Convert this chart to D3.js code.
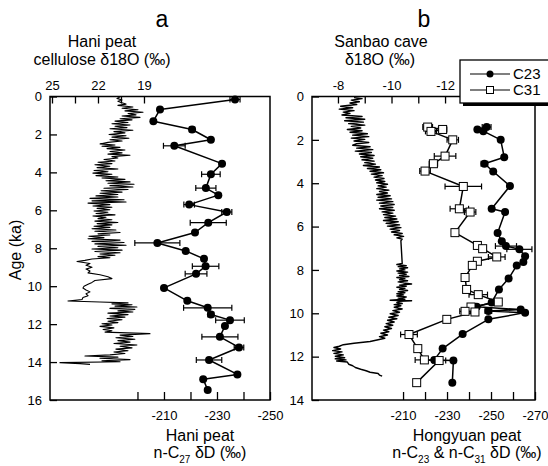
<!DOCTYPE html>
<html>
<head>
<meta charset="utf-8">
<script src="https://d3js.org/d3.v7.min.js"></script>
<style>
body { margin: 0; background: #fff; }
svg text { font-family: "Liberation Sans", Arial, sans-serif; fill: #000; }
</style>
</head>
<body>
<svg id="chart" width="548" height="466"></svg>
<script>
// ---- data: [age (ka), value] ----
const haniCellulose = [
  [0.02,20.56],[0.1,20.76],[0.18,20.43],[0.25,20.7],[0.32,20.5],
  [0.4,20.17],[0.47,20.7],[0.55,19.72],[0.62,20.43],[0.7,19.39],[0.76,20.24],[0.83,19.06],[0.9,20.04],[0.97,19.52],[1.03,20.43],[1.1,19.26],[1.17,20.56],[1.23,19.78],[1.3,20.89],
  [1.37,20.04],[1.44,21.09],[1.5,19.91],[1.57,20.89],[1.64,20.11],[1.7,21.22],[1.78,19.72],[1.85,20.96],[1.92,20.24],[2.0,21.28],[2.07,20.17],[2.14,21.09],[2.2,19.98],[2.28,21.22],[2.35,20.43],
  [2.42,21.35],[2.5,21.87],[2.56,20.89],[2.62,21.74],
  [2.68,20.56],[2.75,21.41],[2.82,20.24],[2.9,21.22],[2.97,20.43],[3.04,21.35],[3.1,19.91],[3.17,21.09],[3.24,20.7],[3.32,21.61],
  [3.4,20.89],[3.47,22.0],[3.54,21.09],[3.6,22.2],[3.68,21.22],[3.75,22.06],[3.82,20.7],[3.9,22.26],[3.97,21.35],[4.04,22.33],[4.1,21.09],[4.17,22.13],
  [4.24,20.7],[4.3,21.74],[4.37,20.24],[4.44,21.48],[4.5,19.91],[4.57,21.35],[4.63,19.65],[4.7,21.22],[4.77,19.72],[4.84,21.61],[4.9,20.04],[4.97,21.8],[5.04,20.43],[5.1,21.87],[5.17,20.7],
  [5.24,22.13],[5.3,20.7],[5.37,22.52],[5.44,20.3],[5.5,22.39],[5.56,20.17],[5.62,22.65],[5.7,21.22],[5.77,22.33],[5.84,21.09],
  [5.9,22.06],[5.97,21.22],[6.04,22.26],[6.1,21.35],[6.17,22.13],[6.24,20.89],[6.3,22.33],[6.37,21.48],[6.44,22.0],[6.5,21.09],[6.57,22.2],[6.64,20.7],[6.7,22.06],[6.77,21.09],[6.84,22.26],[6.9,21.22],[6.97,22.39],[7.04,20.83],[7.1,22.2],[7.17,20.56],[7.24,22.0],[7.3,21.22],[7.37,22.59],[7.44,21.61],
  [7.5,22.65],[7.57,20.56],[7.64,22.39],[7.7,20.3],[7.77,22.2],[7.84,20.17],[7.9,22.0],[7.97,20.7],[8.04,22.39],[8.1,20.43],
  [8.17,22.2],[8.24,20.56],[8.3,21.87],[8.37,20.89],[8.44,22.0],[8.5,21.22],[8.57,22.39],[8.64,22.85],
  [8.7,23.37],[8.8,22.52],[8.9,22.78],[9.0,22.39],[9.1,22.78],[9.2,22.52],[9.3,22.65],[9.4,21.87],[9.5,21.35],[9.6,21.09],[9.7,22.2],[9.8,22.39],[9.9,22.65],[10.0,22.91],[10.1,22.98],[10.2,22.78],[10.3,22.52],[10.4,22.78],[10.5,22.65],[10.6,22.98],[10.7,23.04],[10.78,23.96],[10.83,21.87],[10.88,20.04],
  [10.93,21.09],[10.98,19.78],[11.05,20.89],[11.1,19.46],[11.17,21.22],[11.22,19.59],[11.3,20.7],[11.36,19.72],[11.42,21.35],[11.5,20.04],[11.57,21.22],[11.63,20.24],[11.7,21.41],[11.77,20.43],[11.85,21.35],[11.92,20.7],
  [11.98,21.74],[12.05,21.09],[12.12,21.87],[12.2,20.96],[12.28,21.67],[12.35,21.09],[12.42,21.54],
  [12.5,18.61],[12.58,20.56],[12.65,19.72],[12.72,20.83],[12.8,19.59],[12.87,20.7],[12.95,19.91],[13.02,20.96],[13.1,19.46],[13.17,20.56],[13.25,19.78],[13.32,20.83],[13.4,20.04],[13.47,20.96],[13.55,20.24],[13.62,21.22],[13.68,22.85],[13.74,20.7],[13.8,21.87],[13.87,19.91],[13.93,21.74],[13.98,20.56],[14.03,24.48],[14.08,23.17],[14.12,22.52]
];

// [age, dD, error]
const haniC27 = [
  [0.16,-236.8,1.9],[0.68,-208.5,0],[1.3,-206,0],[1.74,-220.6,1],[2.28,-227.7,0],[2.6,-213.9,4.1],
  [3.54,-231.9,0],[4.1,-227.7,3.5],[4.83,-225.8,3.8],[5.2,-230.5,0],[5.7,-219.5,2],[6.09,-233.7,1.9],
  [6.65,-226.7,6.8],[7.17,-221.7,0],[7.72,-207.5,8.5],[8.14,-218.2,0],[8.56,-225.1,0],[8.95,-225.7,5],
  [9.35,-222.1,4.1],[10.09,-210,0],[10.77,-218.8,0],[11.14,-226.5,9.1],[11.49,-227.7,1.1],[11.79,-234.9,5.4],
  [12.1,-233,0],[12.67,-231.1,6.8],[13.23,-238.3,1.8],[13.89,-227,4.8],[14.65,-237.7,0],[14.9,-224.8,0],[15.47,-226.5,0]
];

const sanbaoCave = [
  [0.05,-8.6],[0.1,-8.9],[0.17,-8.5],[0.24,-8.8],[0.3,-8.45],[0.37,-8.7],
  [0.45,-8.1],[0.52,-8.55],[0.58,-8.05],[0.65,-8.6],[0.72,-8.2],[0.78,-8.45],
  [0.85,-8.15],[0.92,-8.9],[0.98,-8.3],[1.05,-9.0],[1.12,-8.25],[1.18,-8.95],[1.25,-8.4],[1.32,-9.0],[1.38,-8.5],[1.45,-8.85],[1.52,-8.35],[1.58,-8.9],
  [1.65,-8.45],[1.72,-9.1],[1.78,-8.55],[1.85,-9.15],[1.92,-8.5],[1.98,-9.0],[2.05,-8.6],[2.12,-9.15],[2.18,-8.7],
  [2.25,-8.55],[2.32,-9.2],[2.38,-8.7],[2.45,-9.3],[2.52,-8.65],[2.58,-9.25],[2.65,-8.8],[2.72,-9.35],[2.78,-8.85],[2.85,-9.3],[2.92,-8.9],[2.98,-9.35],[3.05,-9.0],
  [3.12,-9.4],[3.18,-8.95],[3.25,-9.55],[3.32,-9.1],[3.38,-9.6],[3.45,-9.2],[3.52,-9.7],[3.58,-9.25],[3.65,-9.65],[3.72,-9.35],[3.78,-9.72],[3.85,-9.4],
  [3.92,-9.75],[3.98,-9.45],[4.05,-9.85],[4.12,-9.5],[4.18,-9.8],[4.25,-9.45],[4.32,-9.9],[4.38,-9.55],[4.45,-9.85],
  [4.52,-9.45],[4.58,-9.95],[4.65,-9.5],[4.72,-10.0],[4.78,-9.45],[4.85,-10.05],[4.92,-9.55],[4.98,-10.1],[5.05,-9.6],[5.12,-10.05],[5.18,-9.55],[5.25,-10.1],[5.32,-9.65],[5.38,-10.05],[5.45,-9.7],[5.52,-10.15],[5.58,-9.75],
  [5.65,-10.2],[5.72,-9.7],[5.78,-10.25],[5.85,-9.8],[5.92,-10.3],[5.98,-9.85],[6.05,-10.35],[6.12,-9.95],[6.18,-10.3],[6.25,-10.0],[6.32,-10.4],
  [6.38,-10.1],[6.45,-10.45],[6.52,-10.2],[6.58,-10.4],[6.65,-10.35],
  [7.7,-10.4],
  [7.75,-10.2],[7.8,-10.55],[7.85,-10.25],[7.9,-10.6],[7.95,-10.3],[8.0,-10.5],[8.05,-10.2],[8.1,-10.6],[8.15,-10.25],[8.2,-10.55],[8.25,-10.3],[8.3,-10.65],[8.35,-10.2],[8.4,-10.5],[8.45,-10.3],[8.5,-10.6],[8.55,-10.25],[8.6,-10.45],[8.65,-10.75],[8.7,-10.3],[8.75,-10.55],[8.8,-10.2],[8.85,-10.5],[8.9,-10.3],[8.95,-10.6],[9.0,-10.25],[9.05,-10.5],[9.1,-10.2],[9.15,-10.45],[9.2,-10.2],[9.25,-10.55],[9.3,-10.25],[9.35,-10.5],[9.4,-9.95],[9.42,-10.75],[9.45,-10.3],[9.5,-10.2],[9.55,-10.4],[9.6,-10.1],[9.65,-10.35],
  [9.72,-10.1],[9.8,-10.4],[9.88,-10.05],[9.95,-10.3],[10.02,-9.95],[10.1,-10.25],[10.18,-9.9],[10.25,-10.2],[10.32,-9.85],[10.4,-10.1],[10.48,-9.8],[10.55,-10.05],
  [10.62,-9.75],[10.7,-10.0],[10.78,-9.7],[10.85,-9.9],[10.92,-9.6],[11.0,-9.85],[11.08,-9.55],[11.15,-9.75],[11.22,-9.5],
  [11.3,-9.2],[11.38,-8.6],[11.45,-8.2],
  [11.52,-8.05],[11.58,-7.85],[11.65,-8.1],[11.72,-7.8],[11.78,-8.15],[11.85,-7.85],[11.92,-8.2],[11.98,-7.9],
  [12.05,-8.25],[12.1,-7.9],[12.15,-8.3],[12.2,-7.95],[12.25,-8.35],
  [12.35,-8.4],[12.42,-8.55],[12.5,-8.65],[12.58,-8.85],[12.65,-9.05],[12.72,-9.2],[12.78,-9.5],[12.85,-9.55],[12.9,-9.65]
];

// [age, dD, error]
const hongyuanC23 = [
  [1.41,-248,2],[1.52,-243.8,0],[1.6,-246.5,0],[2.0,-254.4,0],[2.8,-256,0],[3.1,-247,1.5],[3.46,-251,0],
  [4.13,-258.6,0],[5.18,-250.3,0],[5.33,-256.4,0],[6.3,-253,0],[6.68,-254.9,0],[6.9,-256.8,4.8],[7.05,-262.9,5.7],
  [7.37,-265.5,0],[7.63,-264.7,0],[7.79,-261.7,0],[8.4,-258,0],[8.9,-253.6,0],[9.5,-250.3,0],[9.7,-243.5,0],
  [9.83,-263.5,0],[9.9,-248.8,1.5],[9.97,-265.5,0],[10.28,-248.8,0],[10.96,-237.1,0],[11.63,-228,0],
  [12.15,-224.2,0],[12.18,-232.9,0],[13.2,-232.4,0]
];
const hongyuanC31 = [
  [1.41,-221.2,2.2],[1.52,-228,1.9],[1.61,-222.7,2.5],[2.0,-232.6,2.6],[2.75,-229.1,4.9],[3.1,-223.8,1.9],[3.44,-220,2.4],
  [4.15,-237.4,8.3],[5.18,-235.6,4.2],[5.33,-240.5,2.6],[6.28,-233.6,0],[6.87,-243.8,1.5],[7.02,-246.2,1.5],
  [7.4,-252.6,3.8],[7.6,-243.8,0],[7.79,-241.5,0],[8.35,-238.2,0],[8.9,-238.9,0],[9.14,-244.2,4.2],[9.48,-253.3,0],
  [9.71,-240.9,0],[9.91,-238.2,2.4],[9.94,-242.7,0],[10.28,-229.9,0],[10.98,-212.7,3.8],[11.63,-216.7,0],
  [12.15,-219.7,4.2],[12.18,-226.4,3],[13.2,-216.2,0]
];

// ---- ticks ----
const ageTicksA = [0, 2, 4, 6, 8, 10, 12, 14, 16];
const ageTicksB = [0, 2, 4, 6, 8, 10, 12, 14];
const celluloseTicks = [25, 23.5, 22, 20.5, 19];
const celluloseLabels = [25, 22, 19];
const haniDTicks = [-200, -210, -220, -230, -240, -250];
const haniDLabels = [-210, -230, -250];
const sanbaoTicks = [-8, -9, -10, -11, -12];
const sanbaoLabels = [-8, -10, -12];
const hongyuanTicks = [-210, -220, -230, -240, -250, -260, -270];
const hongyuanLabels = [-210, -230, -250, -270];

const svg = d3.select("#chart");
const top0 = 96.5, bottom0 = 400;

// ---- scales ----
const yA = d3.scaleLinear().domain([0, 16]).range([top0, bottom0]);
const xA18 = d3.scaleLinear().domain([25.13, 10.78]).range([50, 270]);
const xAD = d3.scaleLinear().domain([-167, -250]).range([50, 270]);

const yB = d3.scaleLinear().domain([0, 14]).range([top0, bottom0]);
const xB18 = d3.scaleLinear().domain([-7.03, -15.36]).range([312, 535]);
const xBD = d3.scaleLinear().domain([-168.6, -270]).range([312, 535]);

function styleAxis(g)
{
    g.select(".domain").remove();
    g.attr("font-family", "Liberation Sans, Arial, sans-serif").attr("font-size", 13);
    g.selectAll(".tick line").attr("stroke-width", 1.3);
}

function labelOf(list)
{
    return (d) => list.includes(d) ? String(d) : "";
}

function drawPanel(yScale, ageTicks, xTop, topTicks, topLabels, xBot, botTicks, botLabels, x0, x1)
{
    svg.append("g")
        .attr("transform", "translate(" + x0 + ",0)")
        .call(d3.axisLeft(yScale).tickValues(ageTicks).tickSize(-7).tickPadding(8).tickFormat(String))
        .call(styleAxis);

    svg.append("g")
        .attr("transform", "translate(0," + top0 + ")")
        .call(d3.axisTop(xTop).tickValues(topTicks).tickSize(-7).tickPadding(7).tickFormat(labelOf(topLabels)))
        .call(styleAxis);

    svg.append("g")
        .attr("transform", "translate(0," + bottom0 + ")")
        .call(d3.axisBottom(xBot).tickValues(botTicks).tickSize(-8).tickPadding(11).tickFormat(labelOf(botLabels)))
        .call(styleAxis);

    svg.append("rect")
        .attr("x", x0).attr("y", top0)
        .attr("width", x1 - x0).attr("height", bottom0 - top0)
        .attr("fill", "none").attr("stroke", "#000").attr("stroke-width", 1.5);
}

drawPanel(yA, ageTicksA, xA18, celluloseTicks, celluloseLabels, xAD, haniDTicks, haniDLabels, 50, 270);
drawPanel(yB, ageTicksB, xB18, sanbaoTicks, sanbaoLabels, xBD, hongyuanTicks, hongyuanLabels, 312, 535);

// ---- dense isotope curves ----
function curve(data, x, y, width)
{
    svg.append("path")
        .datum(data)
        .attr("fill", "none")
        .attr("stroke", "#000")
        .attr("stroke-width", width)
        .attr("stroke-linejoin", "round")
        .attr("d", d3.line().x(d => x(d[1])).y(d => y(d[0])));
}

curve(haniCellulose, xA18, yA, 1.1);
curve(sanbaoCave, xB18, yB, 1.4);

// ---- biomarker series with error bars ----
function series(data, x, y, marker)
{
    curve(data, x, y, 1.5);

    let bars = svg.append("g").attr("stroke", "#000").attr("stroke-width", 1.2);
    data.filter(d => d[2] > 0).forEach(d => {
        let yy = y(d[0]), xa = x(d[1] + d[2]), xb = x(d[1] - d[2]);
        bars.append("line").attr("x1", xa).attr("x2", xb).attr("y1", yy).attr("y2", yy);
        bars.append("line").attr("x1", xa).attr("x2", xa).attr("y1", yy - 3).attr("y2", yy + 3);
        bars.append("line").attr("x1", xb).attr("x2", xb).attr("y1", yy - 3).attr("y2", yy + 3);
    });

    if (marker === "circle") {
        svg.append("g").selectAll("circle")
            .data(data)
            .enter().append("circle")
            .attr("cx", d => x(d[1]))
            .attr("cy", d => y(d[0]))
            .attr("r", 4)
            .attr("fill", "#000");
    } else {
        svg.append("g").selectAll("rect")
            .data(data)
            .enter().append("rect")
            .attr("x", d => x(d[1]) - 4)
            .attr("y", d => y(d[0]) - 4)
            .attr("width", 8).attr("height", 8)
            .attr("fill", "#fff").attr("stroke", "#000").attr("stroke-width", 1);
    }
}

series(haniC27, xAD, yA, "circle");
series(hongyuanC23, xBD, yB, "circle");
series(hongyuanC31, xBD, yB, "square");

// ---- legend ----
let legend = svg.append("g");
legend.append("rect").attr("x", 463).attr("y", 63).attr("width", 100).attr("height", 43).attr("fill", "#000");
legend.append("rect").attr("x", 460).attr("y", 60).attr("width", 100).attr("height", 43)
    .attr("fill", "#fff").attr("stroke", "#000").attr("stroke-width", 1.3);
[["C23", 74, "circle"], ["C31", 90, "square"]].forEach(item => {
    legend.append("line").attr("x1", 470).attr("x2", 510).attr("y1", item[1]).attr("y2", item[1])
        .attr("stroke", "#000").attr("stroke-width", 1.2);
    if (item[2] === "circle")
        legend.append("circle").attr("cx", 490).attr("cy", item[1]).attr("r", 3.5).attr("fill", "#000");
    else
        legend.append("rect").attr("x", 486.5).attr("y", item[1] - 3.5).attr("width", 7).attr("height", 7)
            .attr("fill", "#fff").attr("stroke", "#000");
    legend.append("text").attr("x", 513).attr("y", item[1] + 5).attr("font-size", 15).text(item[0]);
});

// ---- titles ----
function label(x, y, size, txt)
{
    return svg.append("text").attr("x", x).attr("y", y).attr("font-size", size)
        .attr("text-anchor", "middle").text(txt);
}

label(162, 27, 23, "a");
label(424, 27, 23, "b");
label(102, 47, 16, "Hani peat");
label(102, 65, 16, "cellulose \u03b418O (\u2030)");
label(381, 47, 16, "Sanbao cave");
label(380, 65, 16, "\u03b418O (\u2030)");
label(200, 441, 16, "Hani peat");
label(467, 441, 16, "Hongyuan peat");

let sub1 = svg.append("text").attr("x", 200).attr("y", 458).attr("font-size", 16).attr("text-anchor", "middle");
sub1.append("tspan").text("n-C");
sub1.append("tspan").attr("font-size", 10).attr("dy", 5).text("27");
sub1.append("tspan").attr("dy", -5).text(" \u03b4D (\u2030)");

let sub2 = svg.append("text").attr("x", 467).attr("y", 458).attr("font-size", 16).attr("text-anchor", "middle");
sub2.append("tspan").text("n-C");
sub2.append("tspan").attr("font-size", 10).attr("dy", 5).text("23");
sub2.append("tspan").attr("dy", -5).text(" & n-C");
sub2.append("tspan").attr("font-size", 10).attr("dy", 5).text("31");
sub2.append("tspan").attr("dy", -5).text(" \u03b4D (\u2030)");

svg.append("text")
    .attr("transform", "translate(21,250) rotate(-90)")
    .attr("font-size", 16).attr("text-anchor", "middle")
    .text("Age (ka)");
</script>
</body>
</html>
